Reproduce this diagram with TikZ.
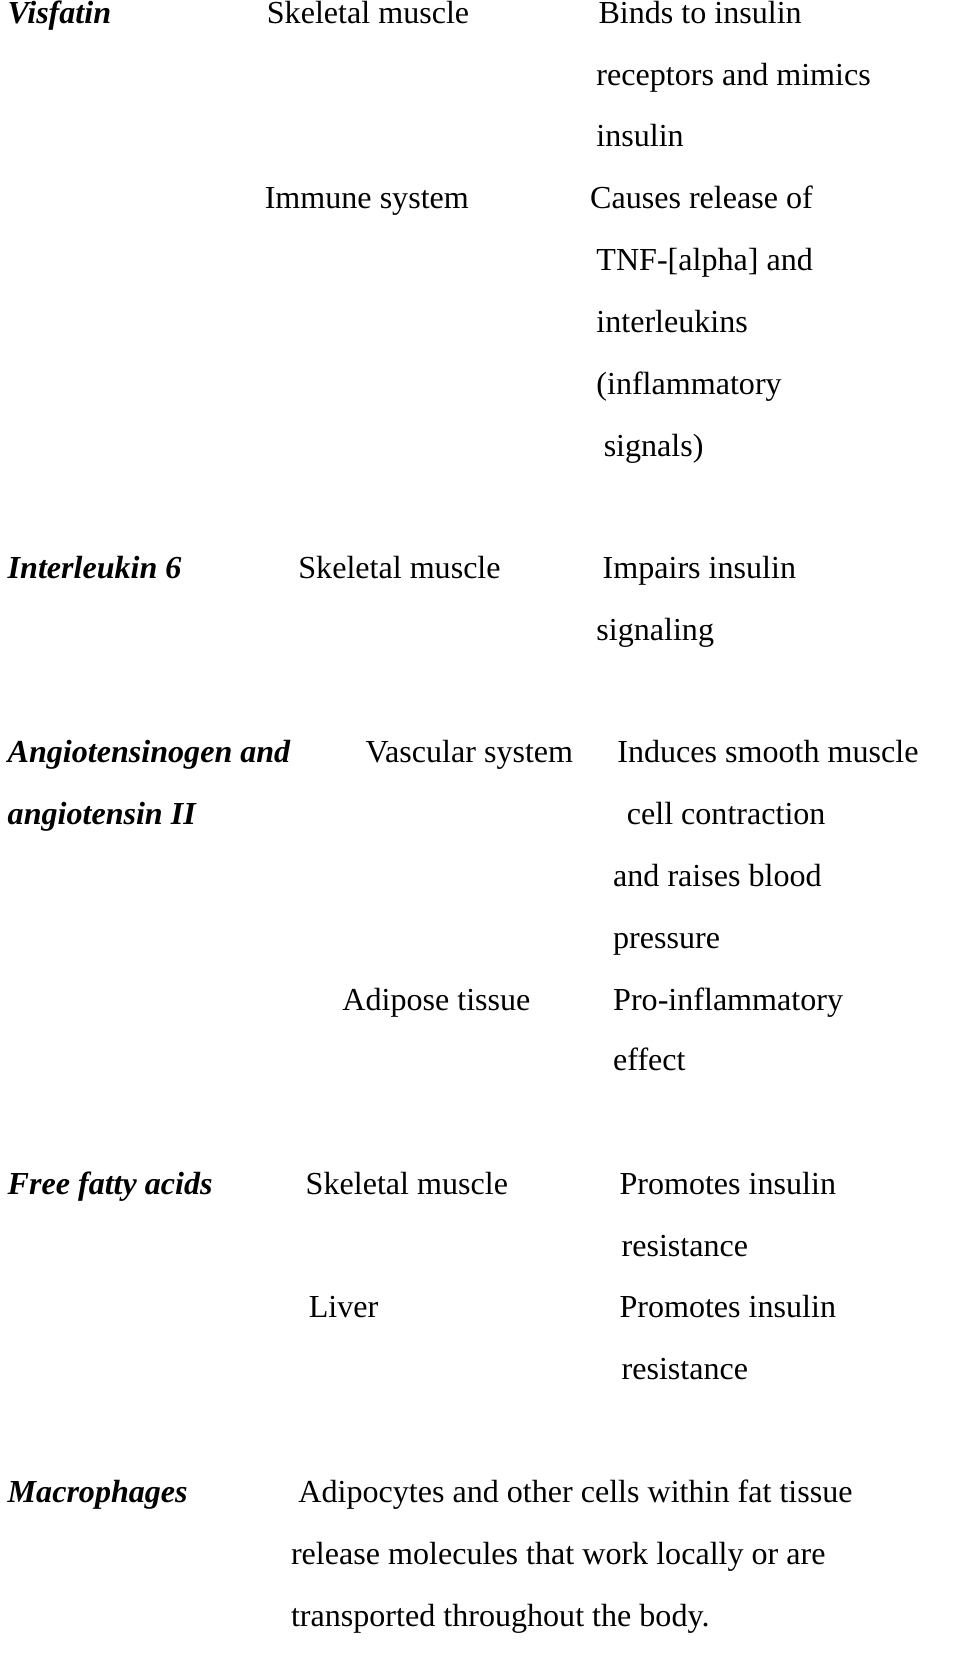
\documentclass[tikz,border=0pt]{standalone}
\usepackage{fontspec}
\setmainfont{Liberation Serif}
\begin{document}
\begin{tikzpicture}[x=0.02cm,y=-0.02cm,
  t/.style={anchor=west,inner sep=0pt,text height=0.72em,text depth=0.2em,font=\fontsize{17.4}{19}\selectfont},
  h/.style={t,font=\fontsize{17.4}{19}\selectfont\bfseries\itshape}]
\useasboundingbox (0,0) rectangle (915,1580);
\node[h] (a1) at (7,18) {Visfatin};
\node[t] (a2) at (254,18) {Skeletal muscle};
\node[t] (a3) at (570,18) {Binds to insulin};
\node[t] (a4) at (568,77) {receptors and mimics};
\node[t] (a5) at (568,135) {insulin};
\node[t] (a6) at (252,194) {Immune system};
\node[t] (a7) at (562,194) {Causes release of};
\node[t] (a8) at (568,253) {TNF-[alpha] and};
\node[t] (a9) at (568,312) {interleukins};
\node[t] (a10) at (568,371) {(inflammatory};
\node[t] (a11) at (575,430) {signals)};
\node[h] (b1) at (7,547) {Interleukin 6};
\node[t] (b2) at (284,547) {Skeletal muscle};
\node[t] (b3) at (574,547) {Impairs insulin};
\node[t] (b4) at (568,606) {signaling};
\node[h] (c1) at (7,722) {Angiotensinogen and};
\node[h] (c2) at (7,781) {angiotensin II};
\node[t] (c3) at (348,722) {Vascular system};
\node[t] (c4) at (588,722) {Induces smooth muscle};
\node[t] (c5) at (597,781) {cell contraction};
\node[t] (c6) at (584,840) {and raises blood};
\node[t] (c7) at (584,899) {pressure};
\node[t] (c8) at (326,958) {Adipose tissue};
\node[t] (c9) at (584,958) {Pro-inflammatory};
\node[t] (c10) at (584,1016) {effect};
\node[h] (d1) at (7,1134) {Free fatty acids};
\node[t] (d2) at (291,1134) {Skeletal muscle};
\node[t] (d3) at (590,1134) {Promotes insulin};
\node[t] (d4) at (592,1193) {resistance};
\node[t] (d5) at (294,1251) {Liver};
\node[t] (d6) at (590,1251) {Promotes insulin};
\node[t] (d7) at (592,1310) {resistance};
\node[h] (e1) at (7,1427) {Macrophages};
\node[t] (e2) at (284,1427) {Adipocytes and other cells within fat tissue};
\node[t] (e3) at (277,1486) {release molecules that work locally or are};
\node[t] (e4) at (277,1545) {transported throughout the body.};
\end{tikzpicture}
\end{document}
